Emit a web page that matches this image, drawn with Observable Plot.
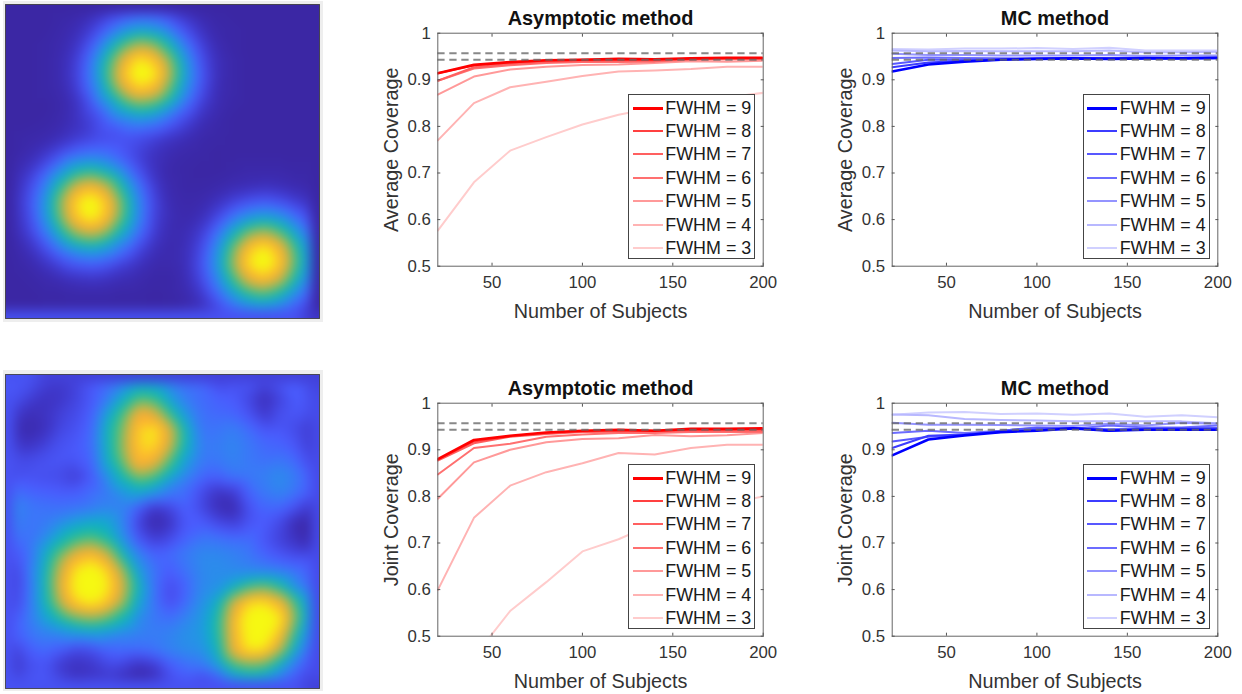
<!DOCTYPE html>
<html><head><meta charset="utf-8">
<script src="https://cdn.jsdelivr.net/npm/d3@7"></script>
<script src="https://cdn.jsdelivr.net/npm/@observablehq/plot@0.6"></script>
<style>
html,body{margin:0;padding:0;background:#fff;}
#page{position:relative;width:1242px;height:694px;overflow:hidden;font-family:"Liberation Sans",Arial,sans-serif;}
.p{position:absolute;}
.p svg{display:block;overflow:visible;background:transparent;}
.legend{position:absolute;background:#fff;border:1px solid #444;box-sizing:border-box;width:127px;height:165px;}
.legend .row{position:absolute;left:0;right:0;height:20px;}
.legend i{position:absolute;left:3.5px;width:30px;top:10px;display:block;}
.legend span{position:absolute;left:36px;top:0px;font-size:17.9px;line-height:22px;color:#1a1a1a;white-space:nowrap;}
.halo{position:absolute;background:#eeeeee;}
</style></head><body><div id="page"></div>
<script>
const subjects=[20,40,60,80,100,120,140,160,180,200];
const fwhm=[3,4,5,6,7,8,9];
const criticalBand=[0.943,0.957];
const xTicks=[50,100,150,200];
const yTicks=[0.5,0.6,0.7,0.8,0.9,1];
const redShades=["#ffcccc","#ffb3b3","#ff9999","#ff7070","#ff6060","#ff4040","#ff0000"];
const blueShades=["#d0d0ff","#b8b8ff","#9494ff","#6c6cff","#5858ff","#3c3cff","#0000ff"];
const lineWidths=[2,2,2,2,2,2,2.6];

const asymAverage=[
[.5765,.680,.748,.777,.804,.825,.840,.851,.862,.872],
[.770,.850,.884,.896,.908,.918,.920,.923,.928,.928],
[.868,.907,.922,.928,.932,.933,.936,.940,.939,.941],
[.898,.924,.931,.936,.938,.938,.939,.943,.944,.944],
[.898,.927,.934,.938,.940,.941,.941,.944,.946,.946],
[.914,.931,.937,.941,.943,.943,.943,.945,.947,.947],
[.914,.932,.938,.942,.943,.945,.944,.946,.947,.947]];
const asymJoint=[
[.340,.455,.554,.616,.682,.708,.742,.765,.785,.800],
[.599,.754,.823,.852,.871,.893,.890,.904,.911,.911],
[.795,.873,.900,.916,.923,.925,.932,.929,.931,.936],
[.847,.904,.913,.928,.933,.936,.936,.938,.939,.938],
[.877,.914,.928,.934,.938,.939,.940,.941,.941,.941],
[.879,.918,.929,.936,.940,.941,.941,.943,.943,.944],
[.880,.921,.930,.937,.941,.943,.941,.945,.945,.946]];
const mcAverage=[
[.966,.965,.967,.967,.968,.966,.969,.963,.963,.963],
[.963,.961,.962,.961,.961,.961,.963,.959,.959,.960],
[.956,.953,.953,.952,.952,.952,.953,.951,.952,.952],
[.947,.948,.947,.946,.946,.946,.947,.948,.947,.948],
[.934,.943,.943,.944,.945,.946,.946,.946,.946,.947],
[.927,.937,.941,.943,.945,.945,.946,.946,.946,.946],
[.918,.933,.939,.943,.945,.946,.945,.946,.946,.947]];
const mcJoint=[
[.975,.980,.981,.977,.978,.975,.978,.971,.974,.970],
[.976,.974,.966,.964,.963,.961,.961,.961,.961,.957],
[.958,.954,.954,.953,.952,.951,.956,.952,.958,.956],
[.936,.941,.936,.941,.948,.945,.952,.948,.948,.952],
[.918,.928,.932,.941,.947,.947,.944,.945,.947,.947],
[.904,.930,.933,.938,.943,.947,.941,.945,.945,.943],
[.888,.922,.931,.938,.941,.946,.941,.943,.943,.943]];

const colorStops=[0,4,9,14,20,27,35,44,54,63,71,78,86,93];
const colorRange=["#3b27a4","#3c2bb0","#3f36c8","#4448e4","#4a5cff","#3a78f8","#2594e6","#0eb0c6","#22be98","#80c060","#d8b040","#fba835","#fdc02c","#f6f812"];

const smoothMap=[
[0,0,0,1,2,5,10,14,17,16,12,7,3,1,0,0,0,0,0,0],
[0,0,0,2,5,11,21,32,38,35,26,15,7,2,1,0,0,0,0,0],
[0,0,1,3,8,19,38,56,67,62,46,26,12,4,1,0,0,0,0,0],
[0,0,1,4,11,27,52,77,92,85,63,36,16,6,2,0,0,0,0,0],
[0,0,1,4,12,29,56,84,100,93,68,39,18,6,2,0,0,0,0,0],
[0,0,1,3,10,25,48,71,85,79,58,33,15,5,2,0,0,0,0,0],
[0,0,0,2,7,17,32,48,57,53,39,22,10,4,1,0,0,0,0,0],
[0,0,1,3,7,12,20,27,31,28,20,12,5,2,0,0,0,0,0,0],
[1,2,3,6,10,13,15,16,15,12,8,5,2,1,0,0,0,0,0,0],
[1,4,9,16,23,26,24,18,12,7,4,2,1,0,0,0,0,0,0,0],
[3,8,18,33,46,50,43,30,16,7,2,1,0,0,1,2,2,2,1,1],
[4,13,28,51,72,79,68,47,25,10,3,1,1,2,4,5,6,5,3,2],
[5,16,35,64,89,98,84,58,31,13,4,2,3,7,12,16,18,15,10,6],
[5,15,35,62,87,96,83,57,31,12,5,3,6,14,26,35,39,34,23,12],
[4,12,27,48,67,74,64,44,24,10,4,5,11,25,45,62,68,58,39,21],
[2,7,16,29,40,44,38,26,14,6,3,6,15,34,61,85,93,80,54,29],
[1,3,8,14,19,21,18,12,7,3,3,6,17,37,66,91,100,86,58,31],
[0,1,3,5,7,8,7,5,3,1,1,5,14,31,55,76,84,72,49,26],
[0,0,1,1,2,2,2,1,1,0,1,3,9,21,37,51,56,48,32,17],
[0,0,0,0,0,0,0,0,0,0,0,2,5,11,19,26,29,25,17,9]];
const noisyMap=[
[19,17,12,10,13,19,24,30,38,36,30,25,23,14,18,20,14,18,21,13],
[17,12,8,9,13,19,28,44,58,54,38,28,24,21,20,14,6,13,21,15],
[11,6,8,12,15,21,40,58,80,74,54,36,25,23,22,17,9,17,19,15],
[7,3,7,14,17,23,47,64,88,92,74,46,26,26,29,24,18,19,15,9],
[11,8,12,17,19,24,46,66,88,90,72,46,28,28,31,27,23,22,18,9],
[16,15,17,18,18,22,44,62,84,78,58,38,27,27,30,27,25,27,23,13],
[16,17,16,15,11,19,34,50,64,58,42,30,23,21,26,27,29,33,28,19],
[25,22,21,20,20,24,28,36,42,36,27,24,15,8,10,22,27,31,26,20],
[33,27,26,25,26,28,31,29,19,8,13,21,14,6,4,17,23,23,16,7],
[30,26,28,34,40,44,42,30,12,3,8,19,20,15,12,18,20,14,4,0],
[24,25,33,46,56,60,52,34,18,11,15,22,27,26,24,24,18,12,7,2],
[16,24,42,62,78,84,72,48,30,22,24,28,32,32,30,27,22,18,15,15],
[10,26,46,72,92,98,88,66,38,26,20,26,32,33,32,31,30,28,25,20],
[10,25,47,76,96,100,92,72,46,25,15,22,32,34,44,56,60,50,32,22],
[11,26,47,70,88,94,86,66,40,25,15,24,34,44,72,88,90,80,55,30],
[18,28,40,52,62,66,60,48,32,26,24,30,36,50,80,98,100,92,62,32],
[20,26,30,32,36,38,35,31,29,28,30,34,36,50,80,96,98,84,52,27],
[11,20,24,20,14,16,22,24,24,26,30,33,34,46,78,92,90,70,42,20],
[8,16,18,10,7,9,14,13,7,10,20,25,27,37,56,62,60,44,27,16],
[15,18,19,13,8,10,10,5,2,6,15,18,11,16,32,38,35,26,17,12]];

const page=document.getElementById("page");
function place(node,left,top,cls){const d=document.createElement("div");d.className=cls||"p";d.style.left=left+"px";d.style.top=top+"px";d.appendChild(node);page.appendChild(d);return d;}

function heat(rows,left,top,haloTop,haloH){
  const halo=document.createElement("div");halo.className="halo";
  halo.style.cssText=`left:3px;top:${haloTop}px;width:320px;height:${haloH}px`;page.appendChild(halo);
  const n=rows.length;
  const cells=rows.flatMap((r,j)=>r.map((v,i)=>({col:i+.5,row:j+.5,v})));
  const chart=Plot.plot({width:314,height:314,margin:0,
    x:{domain:[0,n],axis:null},y:{domain:[0,n],range:[0,314],axis:null},
    color:{type:"linear",domain:colorStops,range:colorRange,clamp:true},
    style:{background:"transparent"},
    marks:[
      Plot.raster(cells,{x:"col",y:"row",fill:"v",interpolate:"barycentric",pixelSize:1,blur:5,x1:0,x2:n,y1:0,y2:n}),
      Plot.frame({stroke:"#333",strokeWidth:1,strokeOpacity:.8})
    ]});
  place(chart,left,top);
}

function panel(series,shades,title,yLabel,left,top,ml,mr,mb,h){
  const rows=series.flatMap((vals,k)=>vals.map((v,i)=>({x:subjects[i],v,k})));
  const txt="#333";
  const chart=Plot.plot({width:400,height:h,marginLeft:ml,marginRight:mr,marginTop:32.7,marginBottom:mb,
    style:{fontFamily:"'Liberation Sans',Arial,sans-serif",background:"transparent",color:txt},
    x:{domain:[20,200]},y:{domain:[.5,1]},
    marks:[
      ...fwhm.map((f,k)=>Plot.line(rows.filter(r=>r.k===k),{x:"x",y:"v",stroke:shades[k],strokeWidth:lineWidths[k],clip:true,curve:"linear"})),
      Plot.ruleY(criticalBand,{stroke:"#666",strokeOpacity:.78,strokeWidth:2,strokeDasharray:"7.3,4.7"}),
      Plot.frame({stroke:"#666",strokeWidth:1}),
      Plot.axisX({ticks:xTicks,anchor:"bottom",tickSize:-3,tickPadding:13,fontSize:16.8,stroke:"#555",label:"Number of Subjects",labelAnchor:"center",labelArrow:"none",labelOffset:52,tickFormat:d=>String(d)}),
      Plot.axisX({ticks:xTicks,anchor:"top",tickSize:-3,stroke:"#555",label:null,tickFormat:()=>""}),
      Plot.axisY({ticks:yTicks,anchor:"left",tickSize:-3,tickPadding:10,fontSize:16.8,stroke:"#555",label:yLabel,labelAnchor:"center",labelArrow:"none",labelOffset:54,tickFormat:d=>d===1?"1":d3.format(".1f")(d)}),
      Plot.axisY({ticks:yTicks,anchor:"right",tickSize:-3,stroke:"#555",label:null,tickFormat:()=>""}),
      Plot.text([title],{text:d=>d,frameAnchor:"top",dy:-14.5,fontSize:19.9,fontWeight:"bold",fill:"#111",lineAnchor:"middle"})
    ]});
  place(chart,left,top);
  chart.querySelectorAll('[aria-label="y-axis label"] text, [aria-label="x-axis label"] text').forEach(t=>t.style.fontSize="19.8px");

  const leg=document.createElement("div");leg.className="legend";
  leg.style.left=(left+ml+191)+"px";leg.style.top=(top+94)+"px";
  [...fwhm].reverse().forEach((f,j)=>{
    const k=fwhm.length-1-j;
    const row=document.createElement("div");row.className="row";row.style.top=Math.round(1.5+23.4*j)+"px";
    const line=document.createElement("i");line.style.height=Math.round(lineWidths[k])+"px";line.style.background=shades[k];
    const lab=document.createElement("span");lab.textContent="FWHM = "+f;
    row.append(line,lab);leg.appendChild(row);
  });
  page.appendChild(leg);
}

heat(smoothMap,5,4,1,321);
heat(noisyMap,5,373.5,370,321);
panel(asymAverage,redShades,"Asymptotic method","Average Coverage",380,0,57.3,17.3,64.3,330);
panel(mcAverage,blueShades,"MC method","Average Coverage",830,0,61.7,12.7,64.3,330);
panel(asymJoint,redShades,"Asymptotic method","Joint Coverage",380,370,57.3,17.3,58.3,324);
panel(mcJoint,blueShades,"MC method","Joint Coverage",830,370,61.7,12.7,58.3,324);
</script></body></html>
